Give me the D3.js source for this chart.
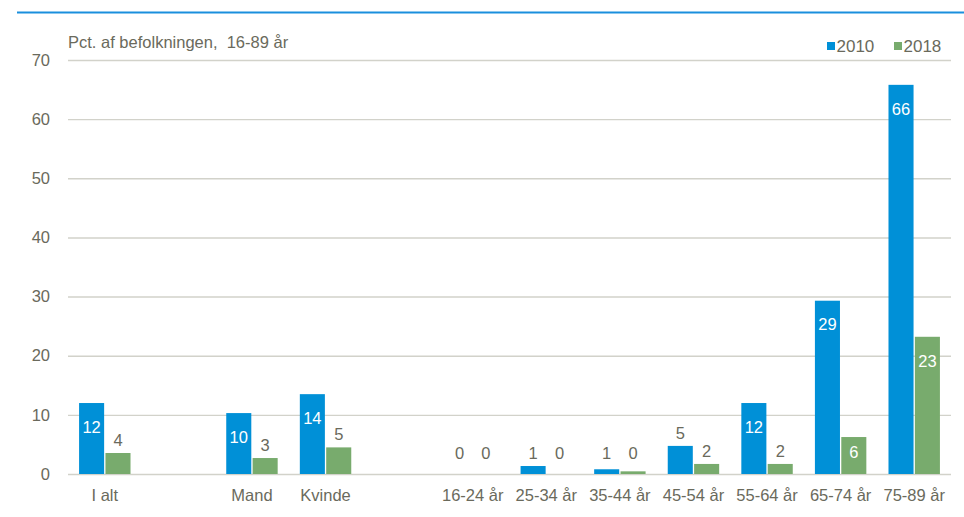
<!DOCTYPE html>
<html><head><meta charset="utf-8">
<script src="https://cdn.jsdelivr.net/npm/d3@7"></script>
<style>
html,body{margin:0;padding:0;background:#fff;}
svg{display:block;font-family:"Liberation Sans",Arial,sans-serif;}
</style></head>
<body>
<svg id="chart" width="964" height="517"></svg>
<script>
const categories = ["I alt", "", "Mand", "Kvinde", "", "16-24 år", "25-34 år", "35-44 år", "45-54 år", "55-64 år", "65-74 år", "75-89 år"];
const series = ["2010", "2018"];
const values2010 = [12.0, null, 10.3, 13.5, null, 0, 1.35, 0.8, 4.75, 12.0, 29.3, 65.8];
const values2018 = [3.55, null, 2.7, 4.5, null, 0, 0, 0.45, 1.7, 1.7, 6.25, 23.2];
const yTicks = [0, 10, 20, 30, 40, 50, 60, 70];
const yTitle = "Pct. af befolkningen,  16-89 år";
const colors = {"2010": "#0090d7", "2018": "#78ab6d"};

const svg = d3.select("#chart");
const textCol = "#6a6a5c";
const gridCol = "#d2d2ca";
const fs = 16.5;

// top rule
svg.append("line").attr("x1", 17).attr("x2", 964).attr("y1", 12.5).attr("y2", 12.5)
  .attr("stroke", "#1a8fdd").attr("stroke-width", 2);

const x0 = d3.scaleBand().domain(d3.range(categories.length)).range([68, 951]).padding(0);
const x1 = d3.scaleBand().domain(series).range([0, x0.bandwidth()]).paddingInner(0.05).paddingOuter(0.42);
const y = d3.scaleLinear().domain([0, 70]).range([474, 60]);

// gridlines
const yAxis = d3.axisLeft(y).tickValues(yTicks).tickSize(-(951 - 68)).tickPadding(18);
const gy = svg.append("g").attr("transform", "translate(68,0)").call(yAxis);
gy.select(".domain").remove();
gy.selectAll(".tick line").attr("stroke", gridCol).attr("stroke-width", 1.4);
gy.selectAll(".tick text").attr("fill", textCol).attr("font-size", fs)
  .attr("font-family", "'Liberation Sans', Arial, sans-serif");

// y title
svg.append("text").attr("x", 68).attr("y", 48).attr("fill", textCol).attr("font-size", fs)
  .style("white-space", "pre").text(yTitle);

// x axis labels
const xAxis = d3.axisBottom(x0).tickSize(0).tickPadding(0).tickFormat(i => categories[i]);
const gx = svg.append("g").attr("transform", "translate(0,489)").call(xAxis);
gx.select(".domain").remove();
gx.selectAll(".tick text").attr("fill", textCol).attr("font-size", fs)
  .attr("font-family", "'Liberation Sans', Arial, sans-serif");

// data
const data = [];
categories.forEach((c, i) => {
  if (values2010[i] === null) return;
  data.push({i, s: "2010", v: values2010[i]});
  data.push({i, s: "2018", v: values2018[i]});
});

svg.append("g").selectAll("rect").data(data.filter(d => d.v > 0)).join("rect")
  .attr("x", d => x0(d.i) + x1(d.s))
  .attr("width", x1.bandwidth())
  .attr("y", d => y(d.v))
  .attr("height", d => y(0) - y(d.v))
  .attr("fill", d => colors[d.s]);

svg.append("g").selectAll("text").data(data).join("text")
  .attr("x", d => x0(d.i) + x1(d.s) + x1.bandwidth() / 2)
  .attr("y", d => {
    const top = y(d.v), h = y(0) - top;
    if (h > 30) return top + Math.min(24, h / 2 - 3);
    return Math.min(top - 13, 453);
  })
  .attr("dy", "0.35em")
  .attr("text-anchor", "middle")
  .attr("font-size", fs)
  .attr("fill", d => (y(0) - y(d.v) > 30) ? "#fff" : textCol)
  .text(d => Math.round(d.v));

// legend
const leg = svg.append("g");
const legX = [827, 894];
series.forEach((s, k) => {
  leg.append("rect").attr("x", legX[k]).attr("y", 42).attr("width", 8).attr("height", 8).attr("fill", colors[s]);
  leg.append("text").attr("x", legX[k] + 9.5).attr("y", 52).attr("font-size", 17).attr("fill", textCol).text(s);
});
</script>
</body></html>
